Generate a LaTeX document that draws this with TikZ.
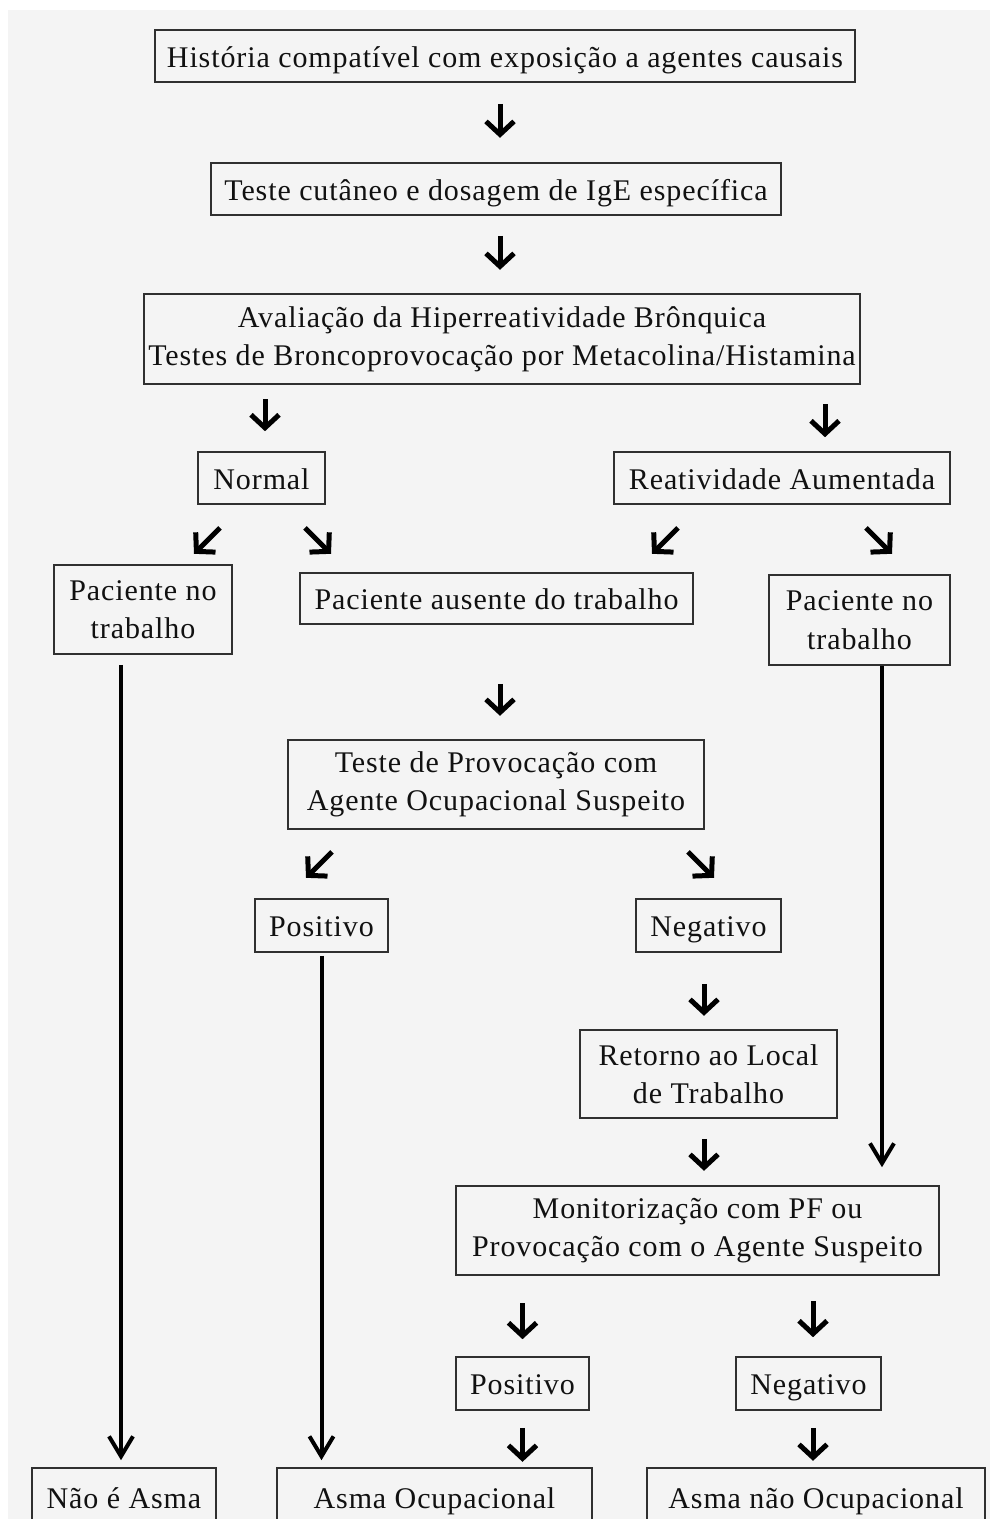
\documentclass[tikz,border=0pt]{standalone}
\usepackage{fontspec}
\setmainfont{Liberation Serif}[LetterSpace=3]
\usetikzlibrary{arrows.meta,calc}
\definecolor{bggray}{HTML}{F4F4F4}
\definecolor{boxline}{HTML}{303030}
\definecolor{ink}{HTML}{111111}
\tikzset{
  box/.style={draw=boxline, line width=1.6pt, inner sep=0pt, align=center, text=ink,
    font=\fontsize{30}{38.5}\selectfont},
  one/.style={text height=24pt, text depth=2pt},
  sa/.style={draw=black, line width=5pt, -{Straight Barb[length=13pt,width=28pt]}},
  la/.style={draw=black, line width=4pt, -{Straight Barb[length=20pt,width=24pt]}},
}
\begin{document}
\begin{tikzpicture}[x=1pt,y=-1pt]
\useasboundingbox (0,0) rectangle (990,1519);
\clip (0,0) rectangle (990,1519);
\fill[white] (0,0) rectangle (990,1519);
\fill[bggray] (8,10) rectangle (990,1519);

\node[box, one, minimum width=700pt, minimum height=52pt] (b1) at (505,56) {História compatível com exposição a agentes causais};
\node[box, one, minimum width=570pt, minimum height=52pt] (b2) at (496,189) {Teste cutâneo e dosagem de IgE específica};
\node[box, minimum width=716pt, minimum height=90pt] (b3) at (502,339) {Avaliação da Hiperreatividade Brônquica\\Testes de Broncoprovocação por Metacolina/Histamina};
\node[box, one, minimum width=127pt, minimum height=52pt] (normal) at (261.5,478) {Normal};
\node[box, one, minimum width=336pt, minimum height=52pt] (reat) at (782,478) {Reatividade Aumentada};
\node[box, minimum width=178pt, minimum height=89pt] (pntl) at (143,609.5) {Paciente no\\trabalho};
\node[box, one, minimum width=393pt, minimum height=51pt] (paus) at (496.5,598.5) {Paciente ausente do trabalho};
\node[box, minimum width=181pt, minimum height=90pt] (pntr) at (859.5,620) {Paciente no\\trabalho};
\node[box, minimum width=416pt, minimum height=89pt] (tprov) at (496,784.5) {Teste de Provocação com\\Agente Ocupacional Suspeito};
\node[box, one, minimum width=133pt, minimum height=53pt] (pos1) at (321.5,925.5) {Positivo};
\node[box, one, minimum width=145pt, minimum height=53pt] (neg1) at (708.5,925.5) {Negativo};
\node[box, minimum width=257pt, minimum height=88pt] (ret) at (708.5,1074) {Retorno ao Local\\de Trabalho};
\node[box, minimum width=483pt, minimum height=89pt] (mon) at (697.5,1230.5) {Monitorização com PF ou\\Provocação com o Agente Suspeito};
\node[box, one, minimum width=133pt, minimum height=53pt] (pos2) at (522.5,1383.5) {Positivo};
\node[box, one, minimum width=145pt, minimum height=53pt] (neg2) at (808.5,1383.5) {Negativo};
\node[box, one, minimum width=184pt, minimum height=58pt] (nao) at (124,1497) {Não é Asma};
\node[box, one, minimum width=315pt, minimum height=58pt] (aocup) at (434.5,1497) {Asma Ocupacional};
\node[box, one, minimum width=338pt, minimum height=58pt] (anocup) at (816,1497) {Asma não Ocupacional};

% short arrows
\draw[sa] (b1.south) ++(-5,21) -- ++(0,34);
\draw[sa] (b2.south) ++(4,20) -- ++(0,34);
\draw[sa] (normal.north) ++(3.5,-52) -- ++(0,32);
\draw[sa] (reat.north) ++(43,-47) -- ++(0,33);
\draw[sa] (normal.south) ++(-41.5,23) -- ++(-26,26);
\draw[sa] (normal.south) ++(43.5,23) -- ++(26,26);
\draw[sa] (reat.south) ++(-104,23) -- ++(-26,26);
\draw[sa] (reat.south) ++(84,23) -- ++(26,26);
\draw[sa] (paus.south) ++(3.5,59) -- ++(0,32);
\draw[sa] (tprov.south) ++(-164,22) -- ++(-26,26);
\draw[sa] (tprov.south) ++(192,22) -- ++(26,26);
\draw[sa] (neg1.south) ++(-4.5,31) -- ++(0,32);
\draw[sa] (ret.south) ++(-4.5,20) -- ++(0,32);
\draw[sa] (pos2.north) ++(0,-53) -- ++(0,36);
\draw[sa] (neg2.north) ++(4.5,-55) -- ++(0,36);
\draw[sa] (pos2.south) ++(0,17) -- ++(0,34);
\draw[sa] (neg2.south) ++(4.5,17) -- ++(0,33);

% long arrows
\draw[la, shorten <=10pt, shorten >=7pt] ([xshift=-22pt]pntl.south) -- ([xshift=-22pt]pntl.south |- nao.north);
\draw[la, shorten <=3pt, shorten >=7pt] (pos1.south) -- (pos1.south |- aocup.north);
\draw[la, shorten >=18pt] ([xshift=22.5pt]pntr.south) -- ([xshift=22.5pt]pntr.south |- mon.north);
\end{tikzpicture}
\end{document}
